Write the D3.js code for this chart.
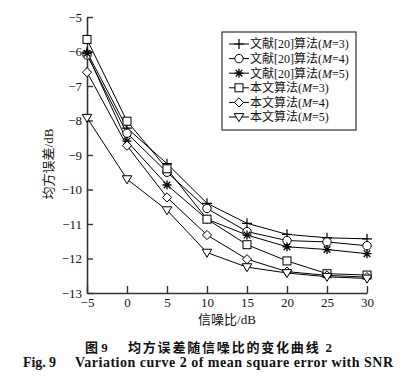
<!DOCTYPE html>
<html>
<head>
<meta charset="utf-8">
<script src="https://cdn.jsdelivr.net/npm/d3@7"></script>
<style>
	body { margin: 0; background: #fff; }
	svg { display: block; }
	text { font-family: "Liberation Serif", "Noto Sans CJK SC", serif; fill: #111; }
</style>
</head>
<body>
<svg class="chart-container" width="419" height="387"></svg>
<script>
// data
const snr = [-5, 0, 5, 10, 15, 20, 25, 30];
const ref20M3 = [-6.02, -8.22, -9.25, -10.4, -10.98, -11.3, -11.4, -11.43];
const ref20M4 = [-6.1, -8.37, -9.5, -10.55, -11.22, -11.48, -11.52, -11.63];
const ref20M5 = [-6.05, -8.6, -9.87, -10.86, -11.32, -11.66, -11.74, -11.86];
const oursM3 = [-5.65, -8.02, -9.4, -10.86, -11.6, -12.07, -12.44, -12.48];
const oursM4 = [-6.6, -8.73, -10.23, -11.32, -12.02, -12.38, -12.49, -12.54];
const oursM5 = [-7.92, -9.7, -10.6, -11.83, -12.25, -12.42, -12.53, -12.58];
const yTicks = [-5, -6, -7, -8, -9, -10, -11, -12, -13];
const seriesNames = ['文献[20]算法', '文献[20]算法', '文献[20]算法', '本文算法', '本文算法', '本文算法'];
const seriesM = [3, 4, 5, 3, 4, 5];
const seriesMarks = ['plus', 'circle', 'star', 'square', 'diamond', 'triangle'];
const seriesValues = [ref20M3, ref20M4, ref20M5, oursM3, oursM4, oursM5];

const margin = { top: 17, right: 52, bottom: 94, left: 87 };
const width = 419 - margin.left - margin.right;
const height = 387 - margin.top - margin.bottom;

const x = d3.scaleLinear().domain([-5, 30]).range([0, width]);
const y = d3.scaleLinear().domain([-13, -5]).range([height, 0]);

const svg = d3.select('.chart-container');
const plot = svg.append('g').attr('transform', 'translate(' + margin.left + ',' + margin.top + ')');

const fmt = (d) => d < 0 ? '\u2212' + Math.abs(d) : String(d);

// axes, ticks pointing inward
const xAxis = plot.append('g')
	.attr('transform', 'translate(0,' + height + ')')
	.call(d3.axisBottom(x).tickValues(snr).tickFormat(fmt).tickSizeInner(-7).tickSizeOuter(0).tickPadding(5));
const yAxis = plot.append('g')
	.call(d3.axisLeft(y).tickValues(yTicks).tickFormat(fmt).tickSizeInner(-6).tickSizeOuter(0).tickPadding(5));

[xAxis, yAxis].forEach((ax) => {
	ax.select('.domain').attr('stroke', '#333').attr('stroke-width', 1.6);
	ax.selectAll('.tick line').attr('stroke', '#333').attr('stroke-width', 1.4);
	ax.selectAll('.tick text')
		.style('font-family', '"Liberation Serif", serif')
		.style('font-size', '13px')
		.attr('fill', '#222');
});

// marker shapes
function drawMarker(g, kind, cx, cy) {
	const s = g.append('g').attr('transform', 'translate(' + cx + ',' + cy + ')')
		.attr('fill', kind === 'star' ? 'none' : '#fff').attr('stroke', '#000').attr('stroke-width', 1);
	if (kind === 'plus') {
		s.append('path').attr('d', 'M-5,0H5M0,-5V5').attr('stroke-width', 1.2);
	} else if (kind === 'circle') {
		s.append('circle').attr('r', 4.2);
	} else if (kind === 'star') {
		s.append('path').attr('d', 'M-4.5,0H4.5M0,-4.5V4.5M-3.3,-3.3L3.3,3.3M-3.3,3.3L3.3,-3.3').attr('stroke-width', 1.3);
	} else if (kind === 'square') {
		s.append('rect').attr('x', -4).attr('y', -4).attr('width', 8).attr('height', 8);
	} else if (kind === 'diamond') {
		s.append('path').attr('d', 'M0,-4.6L4.6,0L0,4.6L-4.6,0Z');
	} else if (kind === 'triangle') {
		s.append('path').attr('d', 'M-4.8,-3.4H4.8L0,4.6Z');
	}
}

const line = d3.line().x((d, i) => x(snr[i])).y((d) => y(d));

seriesValues.forEach((vals) => {
	plot.append('path')
		.datum(vals)
		.attr('d', line)
		.attr('fill', 'none')
		.attr('stroke', '#000')
		.attr('stroke-width', 1);
});
seriesValues.forEach((vals, k) => {
	const g = plot.append('g').attr('class', 'markers');
	vals.forEach((v, i) => drawMarker(g, seriesMarks[k], x(snr[i]), y(v)));
});

// legend
const legend = svg.append('g').attr('transform', 'translate(222,32)');
legend.append('rect')
	.attr('width', 134).attr('height', 98)
	.attr('fill', '#fff').attr('stroke', '#333').attr('stroke-width', 1.2);
seriesNames.forEach((name, k) => {
	const ry = 12 + k * 14.6;
	legend.append('line')
		.attr('x1', 7).attr('x2', 27).attr('y1', ry).attr('y2', ry)
		.attr('stroke', '#000').attr('stroke-width', 1);
	drawMarker(legend, seriesMarks[k], 17, ry);
	const t = legend.append('text')
		.attr('x', 28).attr('y', ry + 4.3)
		.style('font-size', '12px');
	t.append('tspan').text(name + '(');
	t.append('tspan').style('font-style', 'italic').text('M');
	t.append('tspan').text('=' + seriesM[k] + ')');
});

// axis titles
svg.append('text')
	.attr('transform', 'translate(53,164) rotate(-90)')
	.attr('text-anchor', 'middle')
	.style('font-size', '13px')
	.text('均方误差/dB');
svg.append('text')
	.attr('x', 227).attr('y', 324)
	.attr('text-anchor', 'middle')
	.style('font-size', '13px')
	.text('信噪比/dB');

// captions
svg.append('text')
	.attr('x', 85).attr('y', 352)
	.style('font-size', '13px').style('font-weight', 'bold')
	.text('图 9');
svg.append('text')
	.attr('x', 128).attr('y', 352)
	.style('font-size', '13px').style('font-weight', 'bold')
	.attr('textLength', 204).attr('lengthAdjust', 'spacing')
	.text('均方误差随信噪比的变化曲线 2');
svg.append('text')
	.attr('x', 23).attr('y', 367)
	.style('font-size', '14px').style('font-weight', 'bold')
	.attr('textLength', 33).attr('lengthAdjust', 'spacing')
	.text('Fig. 9');
svg.append('text')
	.attr('x', 75).attr('y', 367)
	.style('font-size', '14px').style('font-weight', 'bold')
	.attr('textLength', 318).attr('lengthAdjust', 'spacing')
	.text('Variation curve 2 of mean square error with SNR');
</script>
</body>
</html>
